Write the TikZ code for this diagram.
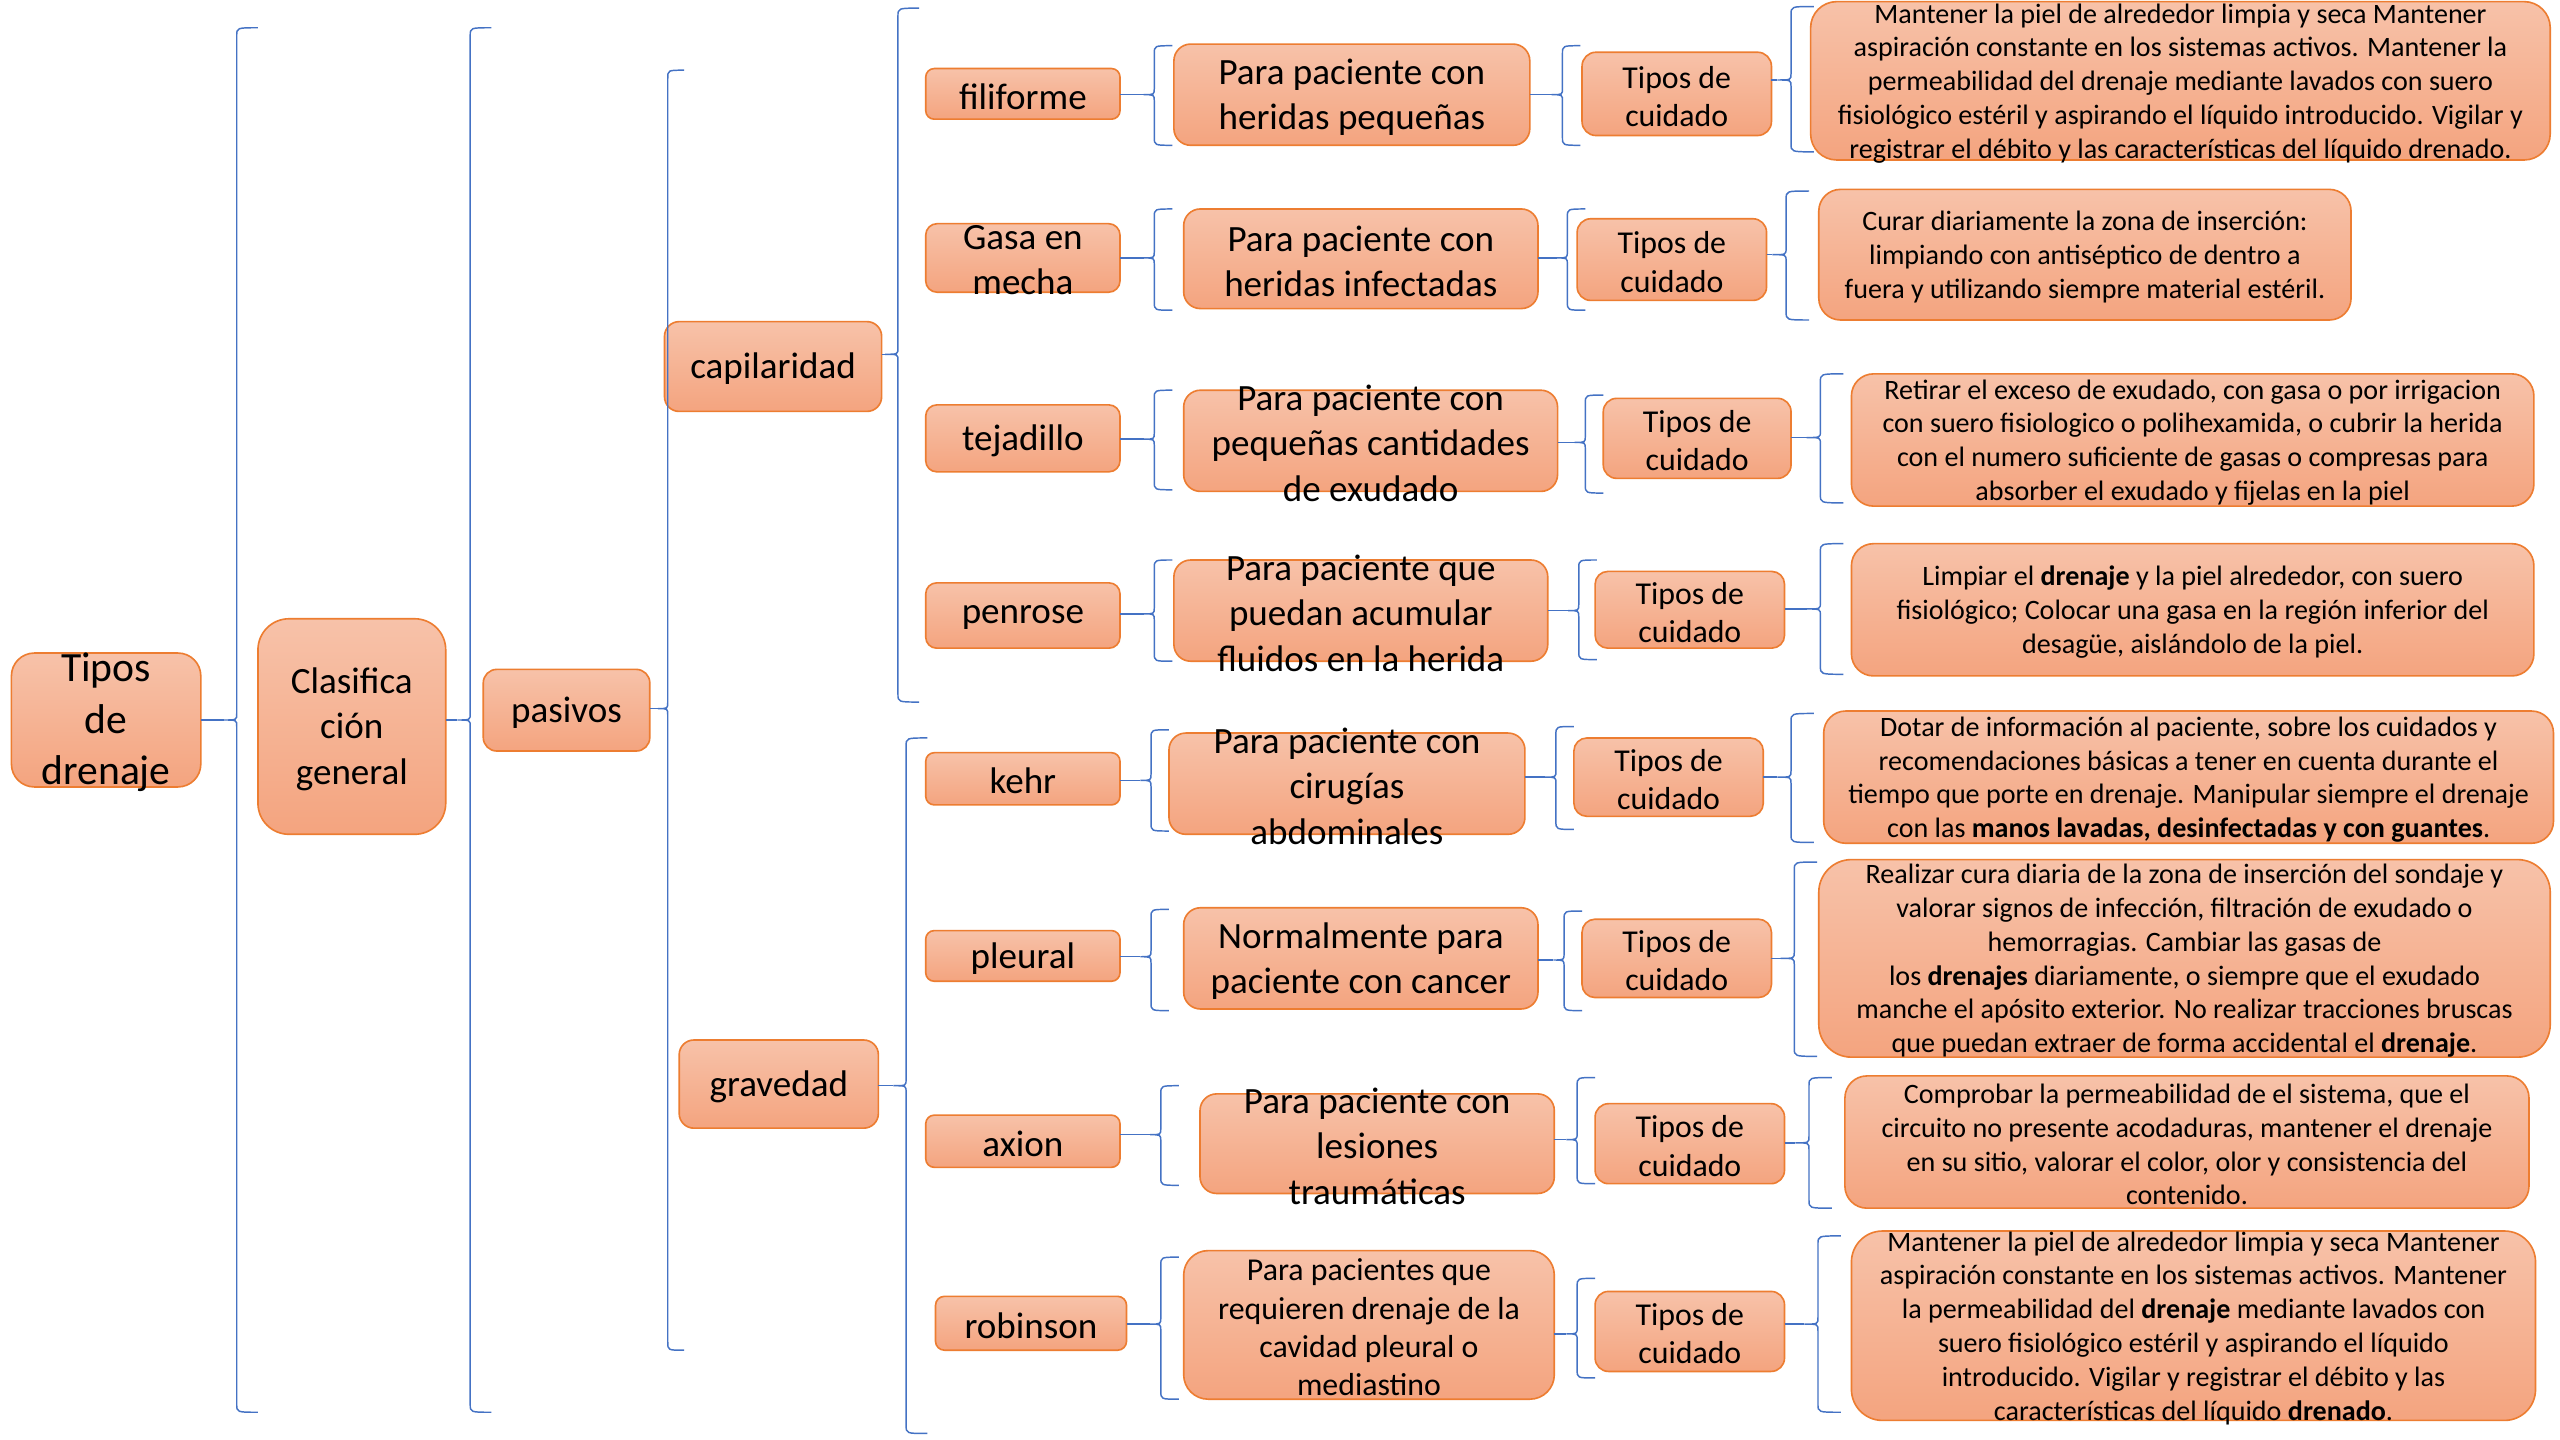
\documentclass[tikz,border=0pt]{standalone}
\usepackage{fontspec}
\setmainfont{Carlito}
\definecolor{ftop}{HTML}{F7C2A9}
\definecolor{fbot}{HTML}{F4A47F}
\definecolor{bline}{HTML}{ED7D31}
\definecolor{bracec}{HTML}{4472C4}
\tikzset{
  bx/.style={draw=bline, line width=1pt, top color=ftop, bottom color=fbot, inner sep=0pt, outer sep=0pt},
  brc/.style={draw=bracec, line width=0.9pt},
  lbl/.style={align=center, inner sep=0pt, text=black, yshift=-1.5pt},
}
\newcommand\fRoot{\fontsize{25.5}{31.5}\selectfont}
\newcommand\fBig{\fontsize{22.7}{27.8}\selectfont}
\newcommand\fMid{\fontsize{19.5}{23.4}\selectfont}
\newcommand\fCare{\fontsize{17.2}{20.7}\selectfont}
% name, cx, cy, w, h, radius, font, text
\newcommand\mkbox[8]{%
  \node[bx, minimum width=#4pt, minimum height=#5pt, rounded corners=#6pt] (#1) at (#2,#3) {};
  \node[lbl, font=#7] (#1t) at (#1.center) {#8};
}
% name, xv, y1, y2, ty, hook
\newcommand\mkbrace[6]{%
  \coordinate (#1) at ({#2-#6*0.6},#5);
  \draw[brc] ({#2+#6},#3) .. controls (#2,#3) .. (#2,{#3+5})
    -- (#2,{#5-4}) .. controls (#2,#5) .. (#1)
    .. controls (#2,#5) .. (#2,{#5+4})
    -- (#2,{#4-5}) .. controls (#2,#4) .. ({#2+#6},#4);
}
\begin{document}
\begin{tikzpicture}[x=1pt,y=-1pt]
\useasboundingbox (0,0) rectangle (1568,882);
\fill[white] (0,0) rectangle (1568,882);

% ---------- boxes ----------
\mkbox{root}{65}{441}{116}{82}{14}{\fRoot}{Tipos\\de\\drenaje}
\mkbox{clas}{215.5}{445}{115}{132}{19}{\fBig}{Clasifica\\ción\\general}
\mkbox{pas}{347}{435}{102}{50}{8.3}{\fBig}{pasivos}
\mkbox{cap}{473.5}{224.5}{133}{55}{9}{\fBig}{capilaridad}
\mkbox{grav}{477}{664}{122}{54}{9}{\fBig}{gravedad}

\mkbox{t1}{626.5}{57.5}{119}{31}{5.2}{\fBig}{filiforme}
\mkbox{t2}{626.5}{158}{119}{42}{7}{\fBig}{Gasa en\\mecha}
\mkbox{t3}{626.5}{268.5}{119}{41}{6.8}{\fBig}{tejadillo}
\mkbox{t4}{626.5}{377}{119}{40}{6.7}{\fBig}{penrose}
\mkbox{t5}{626.5}{477}{119}{32}{5.3}{\fBig}{kehr}
\mkbox{t6}{626.5}{585.5}{119}{31}{5.2}{\fBig}{pleural}
\mkbox{t7}{626.5}{699}{119}{32}{5.3}{\fBig}{axion}
\mkbox{t8}{631.5}{810.5}{117}{33}{5.5}{\fBig}{robinson}

\mkbox{d1}{828}{58}{218}{62}{10.3}{\fBig}{Para paciente con\\heridas pequeñas}
\mkbox{d2}{833.5}{158.5}{217}{61}{10.2}{\fBig}{Para paciente con\\heridas infectadas}
\mkbox{d3}{839.5}{270}{229}{62}{10.3}{\fBig}{Para paciente con\\pequeñas cantidades\\de exudado}
\mkbox{d4}{833.5}{374}{229}{62}{10.3}{\fBig}{Para paciente que\\puedan acumular\\fluidos en la herida}
\mkbox{d5}{825}{480}{218}{62}{10.3}{\fBig}{Para paciente con\\cirugías\\abdominales}
\mkbox{d6}{833.5}{587}{217}{62}{10.3}{\fBig}{Normalmente para\\paciente con cancer}
\mkbox{d7}{843.5}{700.5}{217}{61}{10.2}{\fBig}{Para paciente con\\lesiones\\traumáticas}
\mkbox{d8}{838.5}{811.5}{227}{91}{15}{\fMid}{Para pacientes que\\requieren drenaje de la\\cavidad pleural o\\mediastino}

\mkbox{c1}{1027}{57.5}{116}{51}{8.5}{\fMid}{Tipos de\\cuidado}
\mkbox{c2}{1024}{159}{116}{50}{8.3}{\fMid}{Tipos de\\cuidado}
\mkbox{c3}{1039.5}{268.5}{115}{49}{8.2}{\fMid}{Tipos de\\cuidado}
\mkbox{c4}{1035}{373.5}{116}{47}{7.8}{\fMid}{Tipos de\\cuidado}
\mkbox{c5}{1022}{476}{116}{48}{8}{\fMid}{Tipos de\\cuidado}
\mkbox{c6}{1027}{587}{116}{48}{8}{\fMid}{Tipos de\\cuidado}
\mkbox{c7}{1035}{700.5}{116}{49}{8.2}{\fMid}{Tipos de\\cuidado}
\mkbox{c8}{1035}{815.5}{116}{49}{8.2}{\fMid}{Tipos de\\cuidado}

\mkbox{k1}{1335.5}{49.5}{453}{97}{16}{\fCare}{Mantener la piel de alrededor limpia y seca Mantener\\aspiración constante en los sistemas activos. Mantener la\\permeabilidad del drenaje mediante lavados con suero\\fisiológico estéril y aspirando el líquido introducido. Vigilar y\\registrar el débito y las características del líquido drenado.}
\mkbox{k2}{1277}{156}{326}{80}{13.3}{\fCare}{Curar diariamente la zona de inserción:\\limpiando con antiséptico de dentro a\\fuera y utilizando siempre material estéril.}
\mkbox{k3}{1343}{269.5}{418}{81}{13.5}{\fCare}{Retirar el exceso de exudado, con gasa o por irrigacion\\con suero fisiologico o polihexamida, o cubrir la herida\\con el numero suficiente de gasas o compresas para\\absorber el exudado y fijelas en la piel}
\mkbox{k4}{1343}{373.5}{418}{81}{13.5}{\fCare}{Limpiar el \textbf{drenaje} y la piel alrededor, con suero\\fisiológico; Colocar una gasa en la región inferior del\\desagüe, aislándolo de la piel.}
\mkbox{k5}{1340.5}{476}{447}{81}{13.5}{\fCare}{Dotar de información al paciente, sobre los cuidados y\\recomendaciones básicas a tener en cuenta durante el\\tiempo que porte en drenaje. Manipular siempre el drenaje\\con las \textbf{manos lavadas, desinfectadas y con guantes}.}
\mkbox{k6}{1338}{587}{448}{121}{20}{\fCare}{Realizar cura diaria de la zona de inserción del sondaje y\\valorar signos de infección, filtración de exudado o\\hemorragias. Cambiar las gasas de\\los \textbf{drenajes} diariamente, o siempre que el exudado\\manche el apósito exterior. No realizar tracciones bruscas\\que puedan extraer de forma accidental el \textbf{drenaje}.}
\mkbox{k7}{1339.5}{699.5}{419}{81}{13.5}{\fCare}{Comprobar la permeabilidad de el sistema, que el\\circuito no presente acodaduras, mantener el drenaje\\en su sitio, valorar el color, olor y consistencia del\\contenido.}
\mkbox{k8}{1343.5}{812}{419}{116}{19}{\fCare}{Mantener la piel de alrededor limpia y seca Mantener\\aspiración constante en los sistemas activos. Mantener\\la permeabilidad del \textbf{drenaje} mediante lavados con\\suero fisiológico estéril y aspirando el líquido\\introducido. Vigilar y registrar el débito y las\\características del líquido \textbf{drenado}.}

% ---------- braces ----------
\mkbrace{bA}{145}{17}{865}{441}{13}
\mkbrace{bB}{288}{17}{865}{441}{13}
\mkbrace{bC}{409}{43}{827}{434}{10}
\mkbrace{bD}{550}{5}{430}{217}{13}
\mkbrace{bE}{555}{452}{878}{665}{13}

\mkbrace{s1}{707}{28}{89}{58}{11}
\mkbrace{s2}{707}{128}{190}{158}{11}
\mkbrace{s3}{707}{239}{300}{269}{11}
\mkbrace{s4}{707}{343}{405}{376}{11}
\mkbrace{s5}{705}{447}{509}{478}{11}
\mkbrace{s6}{705}{557}{619}{586}{11}
\mkbrace{s7}{711}{665}{726}{695}{11}
\mkbrace{s8}{711}{770}{857}{811}{11}

\mkbrace{m1}{957}{28}{89}{58}{11}
\mkbrace{m2}{960}{128}{190}{158}{11}
\mkbrace{m3}{971}{242}{302}{271}{11}
\mkbrace{m4}{967}{343}{404}{374}{11}
\mkbrace{m5}{953}{445}{508}{476}{11}
\mkbrace{m6}{958}{558}{619}{588}{11}
\mkbrace{m7}{966}{660}{725}{698}{11}
\mkbrace{m8}{966}{783}{844}{817}{11}

\mkbrace{r1}{1097}{4}{93}{49}{14}
\mkbrace{r2}{1094}{117}{196}{156}{14}
\mkbrace{r3}{1115}{229}{308}{268}{14}
\mkbrace{r4}{1115}{333}{413}{373}{14}
\mkbrace{r5}{1097}{437}{516}{476}{14}
\mkbrace{r6}{1099}{528}{647}{587}{14}
\mkbrace{r7}{1108}{660}{740}{700}{14}
\mkbrace{r8}{1113.5}{757}{865}{811}{14}

% ---------- connectors into braces ----------
\draw[brc] (root.east |- bA) -- (bA);
\draw[brc] (clas.east |- bB) -- (bB);
\draw[brc] (pas.east |- bC) -- (bC);
\draw[brc] (cap.east |- bD) -- (bD);
\draw[brc] (grav.east |- bE) -- (bE);
\foreach \i in {1,...,8}{
  \draw[brc] (t\i.east |- s\i) -- (s\i);
  \draw[brc] (d\i.east |- m\i) -- (m\i);
  \draw[brc] (c\i.east |- r\i) -- (r\i);
}
\end{tikzpicture}
\end{document}
